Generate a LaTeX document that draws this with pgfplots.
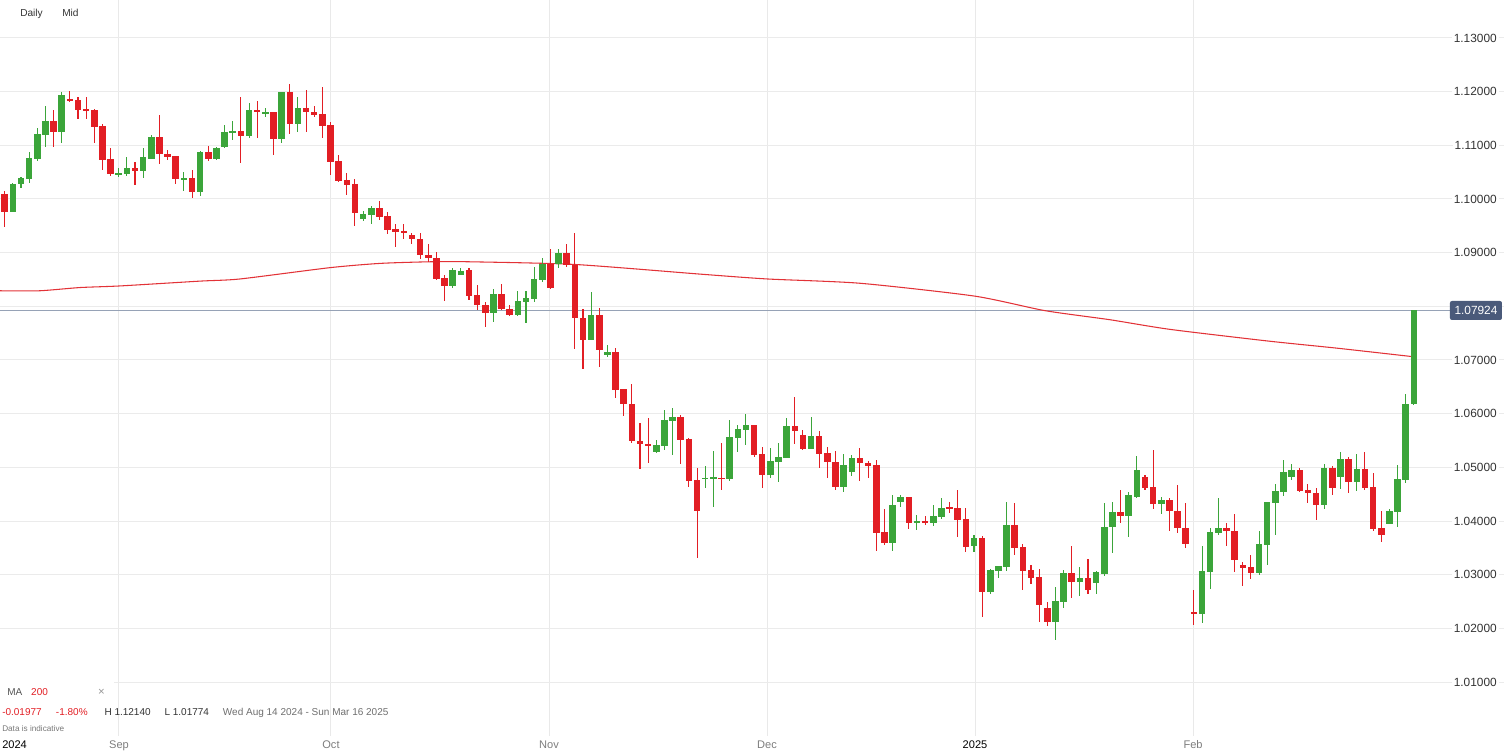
\documentclass[border=0pt]{standalone}
\usepackage{pgfplots}
\usepackage{pgfplotstable}
\usepackage{fontspec}
\setmainfont{Liberation Sans}
\pgfplotsset{compat=1.18}
\definecolor{cgreen}{RGB}{59,165,58}
\definecolor{cred}{RGB}{226,30,36}
\definecolor{hgrid}{RGB}{235,235,235}
\definecolor{vgrid}{RGB}{233,233,233}
\definecolor{yeargrid}{RGB}{212,212,212}
\definecolor{pline}{RGB}{150,162,182}
\definecolor{pbox}{RGB}{74,90,122}
\definecolor{txt}{RGB}{51,51,51}
\definecolor{gtxt}{RGB}{125,125,125}
\definecolor{macol}{RGB}{226,50,55}

\pgfplotstableread{
x o h l c
1 1.09758 1.10292 1.09758 1.10280
2 1.10273 1.10410 1.10211 1.10391
3 1.10379 1.10876 1.10304 1.10758
4 1.10745 1.11317 1.10714 1.11217
5 1.11199 1.11739 1.10975 1.11447
7 1.11242 1.12000 1.11050 1.11932
14 1.10460 1.10571 1.10416 1.10490
15 1.10472 1.10776 1.10435 1.10584
17 1.10528 1.10950 1.10398 1.10776
18 1.10752 1.11193 1.10745 1.11155
22 1.10370 1.10497 1.10143 1.10390
24 1.10124 1.10901 1.10056 1.10876
26 1.10745 1.10970 1.10733 1.10957
27 1.10969 1.11379 1.10957 1.11242
28 1.11236 1.11460 1.11100 1.11260
30 1.11174 1.11783 1.11143 1.11665
32 1.11590 1.11696 1.11534 1.11620
34 1.11112 1.11988 1.11037 1.11988
36 1.11398 1.11894 1.11255 1.11696
44 1.09621 1.09776 1.09596 1.09720
45 1.09708 1.09869 1.09534 1.09832
55 1.08379 1.08708 1.08342 1.08677
56 1.08584 1.08720 1.08578 1.08658
60 1.07876 1.08317 1.07714 1.08230
63 1.07832 1.08280 1.07820 1.08093
64 1.08081 1.08280 1.07689 1.08155
65 1.08143 1.08727 1.08081 1.08516
66 1.08491 1.08894 1.08453 1.08783
68 1.08783 1.09062 1.08714 1.08988
72 1.07379 1.08261 1.07370 1.07839
74 1.07087 1.07286 1.07056 1.07149
80 1.05292 1.05509 1.05273 1.05416
81 1.05404 1.06075 1.05329 1.05882
82 1.05870 1.06100 1.05230 1.05938
86 1.04783 1.05019 1.04609 1.04807
87 1.04789 1.05311 1.04261 1.04814
89 1.04783 1.05888 1.04745 1.05559
90 1.05547 1.05783 1.05292 1.05708
91 1.05696 1.05988 1.05422 1.05795
94 1.04851 1.05354 1.04795 1.05124
95 1.05106 1.05447 1.04727 1.05193
96 1.05180 1.05913 1.05168 1.05764
99 1.05348 1.05944 1.05335 1.05590
103 1.04634 1.05242 1.04540 1.05050
104 1.04919 1.05236 1.04839 1.05168
109 1.03584 1.04478 1.03435 1.04304
110 1.04354 1.04478 1.04267 1.04441
112 1.03969 1.04106 1.03832 1.03994
114 1.03970 1.04300 1.03900 1.04093
115 1.04075 1.04429 1.04043 1.04236
119 1.03534 1.03745 1.03429 1.03689
121 1.02677 1.03112 1.02640 1.03087
122 1.03075 1.03155 1.02938 1.03155
123 1.03137 1.04360 1.03068 1.03919
129 1.02112 1.02770 1.01774 1.02509
130 1.02484 1.03087 1.02385 1.03025
132 1.02857 1.03143 1.02596 1.02938
134 1.02839 1.03062 1.02646 1.03043
135 1.03019 1.04335 1.02981 1.03894
136 1.03882 1.04354 1.03404 1.04168
138 1.04087 1.04534 1.03702 1.04478
139 1.04447 1.05211 1.04435 1.04944
142 1.04323 1.04441 1.04130 1.04385
147 1.02269 1.03532 1.02100 1.03068
148 1.03056 1.03873 1.02728 1.03792
149 1.03786 1.04429 1.03736 1.03873
154 1.03037 1.03823 1.02994 1.03575
155 1.03557 1.04355 1.03173 1.04355
156 1.04343 1.04696 1.03736 1.04553
157 1.04541 1.05141 1.04473 1.04912
158 1.04813 1.05061 1.04770 1.04955
162 1.04300 1.05054 1.04231 1.04993
164 1.04813 1.05283 1.04603 1.05153
166 1.04720 1.05246 1.04559 1.04974
170 1.03953 1.04231 1.03941 1.04188
171 1.04170 1.05042 1.03885 1.04782
172 1.04764 1.06366 1.04714 1.06187
173 1.06180 1.07924 1.06170 1.07924
}\greentab

\pgfplotstableread{
x o h l c
0 1.10087 1.10149 1.09484 1.09758
6 1.11447 1.11652 1.10975 1.11242
8 1.11870 1.12010 1.11800 1.11820
9 1.11839 1.11894 1.11497 1.11665
10 1.11677 1.11901 1.11497 1.11646
11 1.11665 1.11677 1.11050 1.11348
12 1.11366 1.11398 1.10547 1.10727
13 1.10739 1.10950 1.10435 1.10460
16 1.10584 1.10689 1.10255 1.10528
19 1.11155 1.11559 1.10652 1.10845
20 1.10839 1.10913 1.10727 1.10783
21 1.10801 1.10801 1.10280 1.10373
23 1.10391 1.10540 1.10012 1.10124
25 1.10876 1.10981 1.10714 1.10745
29 1.11267 1.11894 1.10677 1.11180
31 1.11665 1.11820 1.11143 1.11627
33 1.11621 1.11621 1.10826 1.11112
35 1.11988 1.12140 1.11211 1.11398
37 1.11696 1.12030 1.11242 1.11621
38 1.11627 1.11733 1.11522 1.11571
39 1.11584 1.12093 1.11130 1.11366
40 1.11379 1.11429 1.10447 1.10696
41 1.10714 1.10820 1.10323 1.10342
42 1.10360 1.10478 1.10075 1.10261
43 1.10273 1.10373 1.09500 1.09733
46 1.09832 1.09969 1.09609 1.09665
47 1.09683 1.09752 1.09348 1.09422
48 1.09435 1.09534 1.09100 1.09385
49 1.09404 1.09534 1.09261 1.09360
50 1.09335 1.09360 1.09155 1.09248
51 1.09255 1.09360 1.08882 1.08963
52 1.08963 1.09161 1.08830 1.08907
53 1.08907 1.09006 1.08491 1.08516
54 1.08528 1.08584 1.08106 1.08379
57 1.08670 1.08720 1.08110 1.08190
58 1.08205 1.08391 1.07932 1.08025
59 1.08031 1.08081 1.07621 1.07876
61 1.08230 1.08410 1.07932 1.07957
62 1.07957 1.08019 1.07820 1.07832
67 1.08783 1.09062 1.08317 1.08335
69 1.08988 1.09155 1.08739 1.08764
70 1.08764 1.09373 1.07199 1.07776
71 1.07789 1.07957 1.06826 1.07379
73 1.07839 1.07975 1.06876 1.07186
75 1.07155 1.07230 1.06292 1.06441
76 1.06453 1.06466 1.05957 1.06186
77 1.06186 1.06553 1.05460 1.05484
78 1.05497 1.05832 1.04975 1.05429
79 1.05435 1.05925 1.05087 1.05391
83 1.05944 1.05970 1.05068 1.05509
84 1.05528 1.05553 1.04627 1.04745
85 1.04758 1.04981 1.03317 1.04186
88 1.04807 1.05460 1.04578 1.04783
92 1.05783 1.05783 1.05199 1.05230
93 1.05242 1.05385 1.04609 1.04857
97 1.05764 1.06304 1.05429 1.05677
98 1.05609 1.05696 1.05317 1.05335
100 1.05590 1.05683 1.04988 1.05248
101 1.05261 1.05373 1.04807 1.05093
102 1.05099 1.05311 1.04571 1.04634
105 1.05168 1.05354 1.04745 1.05081
106 1.05087 1.05124 1.04795 1.05031
107 1.05037 1.05130 1.03441 1.03783
108 1.03801 1.04230 1.03553 1.03584
111 1.04441 1.04441 1.03845 1.03963
113 1.04000 1.04093 1.03920 1.03975
116 1.04261 1.04354 1.04149 1.04236
117 1.04248 1.04578 1.03702 1.04025
118 1.04043 1.04242 1.03422 1.03516
120 1.03689 1.03714 1.02217 1.02677
124 1.03919 1.04335 1.03373 1.03491
125 1.03516 1.03571 1.02720 1.03075
126 1.03087 1.03174 1.02826 1.02938
127 1.02957 1.03112 1.02124 1.02435
128 1.02379 1.02497 1.02050 1.02112
131 1.03025 1.03534 1.02571 1.02857
133 1.02938 1.03298 1.02646 1.02714
137 1.04168 1.04571 1.03963 1.04087
140 1.04814 1.04857 1.04578 1.04609
141 1.04627 1.05323 1.04230 1.04323
143 1.04385 1.04429 1.03820 1.04180
144 1.04194 1.04677 1.03774 1.03866
145 1.03873 1.04343 1.03501 1.03582
146 1.02313 1.02709 1.02070 1.02270
150 1.03873 1.03965 1.03532 1.03811
151 1.03823 1.04132 1.03056 1.03266
152 1.03186 1.03229 1.02790 1.03124
153 1.03149 1.03371 1.02926 1.03037
159 1.04955 1.04980 1.04547 1.04566
160 1.04572 1.04689 1.04343 1.04516
161 1.04522 1.04609 1.04015 1.04300
163 1.04993 1.05017 1.04491 1.04609
165 1.05153 1.05197 1.04528 1.04720
167 1.04974 1.05283 1.04584 1.04615
168 1.04634 1.04894 1.03811 1.03848
169 1.03873 1.04194 1.03606 1.03743
}\redtab

\pgfplotstableread{
x ma
-0.58 1.0829
4.3 1.0829
9.24 1.0835
14.16 1.0838
24.0 1.0847
28.9 1.0851
39.9 1.0872
46.1 1.0880
52.2 1.0883
57.1 1.0883
70.0 1.0878
85.4 1.0860
93.6 1.0851
105.0 1.0843
119.1 1.0819
127.7 1.0792
135.7 1.0775
143.1 1.0757
155.3 1.0735
163.6 1.0722
173.0 1.0706
}\matab

\begin{document}
\begin{tikzpicture}
\pgfplotsset{candle/.style={only marks, mark=none, mark size=0pt,
  mark options={draw opacity=0, fill opacity=0}, forget plot}}
\begin{axis}[
  at={(0,12.75pt)}, anchor=south west,
  scale only axis, width=1128pt, height=552pt,
  xmin=-0.577, xmax=184.07, ymin=0.99994, ymax=1.13708,
  clip=false,
  axis line style={draw=none},
  major tick length=0pt,
  scaled y ticks=false,
  ytick={1.01,1.02,1.03,1.04,1.05,1.06,1.07,1.09,1.10,1.11,1.12,1.13},
  extra y ticks={1.08}, extra y tick labels={},
  extra y tick style={grid style={hgrid, line width=0.75pt}},
  ymajorgrids, y grid style={hgrid, line width=0.75pt},
  yticklabel pos=right,
  yticklabel style={anchor=east, xshift=-3.75pt, fill=white, inner xsep=1.5pt, inner ysep=1pt,
    font=\fontsize{8.9}{10}\selectfont, text=txt,
    /pgf/number format/fixed, /pgf/number format/fixed zerofill,
    /pgf/number format/precision=5, /pgf/number format/assume math mode=true},
  xtick={14.03,40.06,66.83,93.59,145.9},
  xticklabels={Sep,Oct,Nov,Dec,Feb},
  xmajorgrids, x grid style={vgrid, line width=0.75pt},
  xticklabel style={anchor=base, yshift=-9.75pt, text=gtxt, font=\fontsize{8.3}{10}\selectfont},
  extra x ticks={119.13},
  extra x tick labels={2025},
  extra x tick style={grid style={yeargrid, line width=0.75pt}, xticklabel style={text=black}},
]
% legend background
\fill[white] (rel axis cs:0,{1-672/736}) rectangle (rel axis cs:{114/1504},{1-700/736});
% price line
\draw[pline, line width=0.75pt] (axis cs:-0.577,1.07924) -- (axis cs:177.45,1.07924);
% moving average
\addplot[macol, line width=0.8pt, no marks, smooth, tension=0.4] table[x=x, y=ma] {\matab};
% wicks
\addplot[cred, candle, error bars/.cd, y dir=both, y explicit, error mark=none,
  error bar style={line width=0.8pt, line cap=butt, cred}]
  table[x=x, y expr={(\thisrow{h}+\thisrow{l})/2}, y error expr={(\thisrow{h}-\thisrow{l})/2}] {\redtab};
\addplot[cgreen, candle, error bars/.cd, y dir=both, y explicit, error mark=none,
  error bar style={line width=0.8pt, line cap=butt, cgreen}]
  table[x=x, y expr={(\thisrow{h}+\thisrow{l})/2}, y error expr={(\thisrow{h}-\thisrow{l})/2}] {\greentab};
% bodies
\addplot[cred, candle, error bars/.cd, y dir=both, y explicit, error mark=none,
  error bar style={line width=4.9pt, line cap=butt, cred}]
  table[x=x, y expr={(\thisrow{o}+\thisrow{c})/2}, y error expr={max(abs(\thisrow{o}-\thisrow{c})/2,0.00012)}] {\redtab};
\addplot[cgreen, candle, error bars/.cd, y dir=both, y explicit, error mark=none,
  error bar style={line width=4.9pt, line cap=butt, cgreen}]
  table[x=x, y expr={(\thisrow{o}+\thisrow{c})/2}, y error expr={max(abs(\thisrow{o}-\thisrow{c})/2,0.00012)}] {\greentab};
% price box
\node[fill=pbox, rounded corners=1.5pt, text=white, minimum width=39pt, minimum height=14.25pt, inner sep=0pt,
  font=\fontsize{8.9}{10}\selectfont] at (rel axis cs:{1476/1504},{1-310.5/736}) {1.07924};
% top-left
\node[anchor=base west, inner sep=0pt, text=txt, font=\fontsize{7.6}{9}\selectfont] at (rel axis cs:{20/1504},{1-16.7/736}) {Daily};
\node[anchor=base west, inner sep=0pt, text=txt, font=\fontsize{7.6}{9}\selectfont] at (rel axis cs:{62/1504},{1-16.7/736}) {Mid};
% bottom-left info
\node[anchor=base west, inner sep=0pt, text={rgb,255:red,85;green,85;blue,85}, font=\fontsize{7.5}{9}\selectfont] at (rel axis cs:{7/1504},{1-695.7/736}) {MA};
\node[anchor=base west, inner sep=0pt, text=cred, font=\fontsize{7.5}{9}\selectfont] at (rel axis cs:{31/1504},{1-695.7/736}) {200};
\node[anchor=base, inner sep=0pt, text={rgb,255:red,150;green,150;blue,150}, font=\fontsize{8.5}{9}\selectfont] at (rel axis cs:{101.5/1504},{1-695.7/736}) {×};
\node[anchor=base west, inner sep=0pt, text=cred, font=\fontsize{7.5}{9}\selectfont] at (rel axis cs:{2/1504},{1-715.7/736}) {-0.01977};
\node[anchor=base west, inner sep=0pt, text=cred, font=\fontsize{7.5}{9}\selectfont] at (rel axis cs:{55.7/1504},{1-715.7/736}) {-1.80\%};
\node[anchor=base west, inner sep=0pt, text=txt, font=\fontsize{7.5}{9}\selectfont] at (rel axis cs:{104.3/1504},{1-715.7/736}) {H 1.12140};
\node[anchor=base west, inner sep=0pt, text=txt, font=\fontsize{7.5}{9}\selectfont] at (rel axis cs:{164.3/1504},{1-715.7/736}) {L 1.01774};
\node[anchor=base west, inner sep=0pt, text={rgb,255:red,110;green,110;blue,110}, font=\fontsize{7.5}{9}\selectfont] at (rel axis cs:{222.7/1504},{1-715.7/736}) {Wed Aug 14 2024 - Sun Mar 16 2025};
\node[anchor=base west, inner sep=0pt, text={rgb,255:red,120;green,120;blue,120}, font=\fontsize{6.15}{7}\selectfont] at (rel axis cs:{2/1504},{1-731.7/736}) {Data is indicative};
% 2024 label
\node[anchor=base west, inner sep=0pt, text=black, font=\fontsize{8.3}{10}\selectfont] at (rel axis cs:{2/1504},0) [yshift=-9.75pt] {2024};
\end{axis}
\pgfresetboundingbox
\path[use as bounding box] (0,0) rectangle (1128pt,564.75pt);
\end{tikzpicture}
\end{document}
